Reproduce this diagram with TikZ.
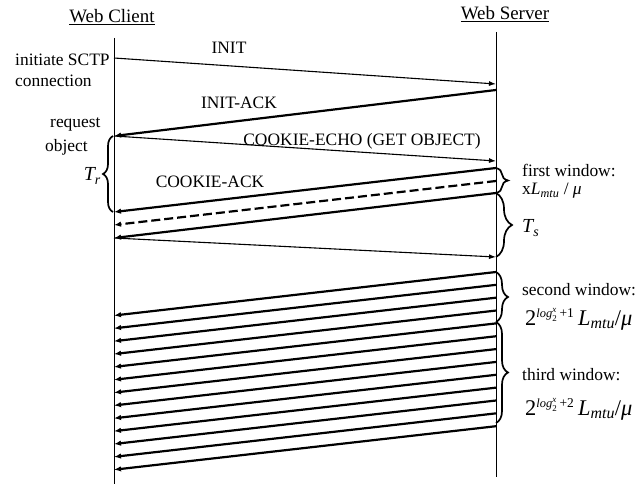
\documentclass[tikz,border=0pt]{standalone}
\usepackage{fontspec}
\setmainfont{Liberation Serif}
\usetikzlibrary{arrows.meta,decorations.pathreplacing}
\begin{document}
\begin{tikzpicture}[x=1bp,y=-1bp,
  lbl/.style={font=\fontsize{17.5}{19}\selectfont, inner sep=0pt},
  ttl/.style={font=\fontsize{19}{21}\selectfont, inner sep=0pt},
  frm/.style={font=\fontsize{22.5}{24}\selectfont, inner sep=0pt, anchor=base west},
  req/.style={line width=1.1bp,-{Latex[length=7bp,width=5bp]}},
  dat/.style={line width=2.2bp,-{Latex[length=7bp,width=5.5bp]}},
  life/.style={line width=1bp},
  brc/.style={decorate,decoration={brace,amplitude=#1},line width=1.7bp},
  brc/.default=12bp]
\useasboundingbox (0,0) rectangle (639,484);
% titles
\node[ttl] (tc) at (112,17) {\underline{Web Client}};
\node[ttl] (ts) at (505,14) {\underline{Web Server}};
% lifelines
\coordinate (ctop) at (114,38); \coordinate (cbot) at (114,484);
\coordinate (stop) at (496,32); \coordinate (sbot) at (496,477);
\draw[life] (ctop) -- (cbot);
\draw[life] (stop) -- (sbot);
% endpoints
\coordinate (c1) at (114,58);  \coordinate (s1) at (496,84);
\coordinate (s2) at (496,90);  \coordinate (c2) at (114,136);
\coordinate (s3) at (496,161);
\coordinate (s4) at (496,168); \coordinate (c4) at (114,212);
\coordinate (s5) at (496,181); \coordinate (c5) at (114,225);
\coordinate (s6) at (496,193); \coordinate (c6) at (114,238);
\coordinate (s7) at (496,257);
% handshake
\draw[req] (c1) -- (s1);
\draw[dat] (s2) -- (c2);
\draw[req] (c2) -- (s3);
\draw[dat] (s4) -- (c4);
\draw[dat,dashed,dash pattern=on 9bp off 4bp] (s5) -- (c5);
\draw[dat] (s6) -- (c6);
\draw[req] (c6) -- (s7);
% data windows
\foreach \k in {0,...,12}{
  \coordinate (ws\k) at (496,{272+12.85*\k});
  \coordinate (wc\k) at (114,{315.5+12.85*\k});
  \draw[dat] (ws\k) -- (wc\k);
}
% labels
\node[lbl] (linit) at (229,48) {INIT};
\node[lbl] (linitack) at (239,103) {INIT-ACK};
\node[lbl] (lecho) at (362,141) {COOKIE-ECHO (GET OBJECT)};
\node[lbl] (lack) at (210,182) {COOKIE-ACK};
\node[lbl,anchor=west] (linit1) at (15,60) {initiate SCTP};
\node[lbl,anchor=west] (linit2) at (15,81) {connection};
\node[lbl,anchor=west] (lreq1) at (50,124) {request};
\node[lbl,anchor=west] (lreq2) at (45,147) {object};
% braces
\coordinate (tra) at (113,212); \coordinate (trb) at (113,136);
\draw[brc=10bp] (tra) -- (trb);
\node[font=\fontsize{20}{22}\selectfont\itshape,inner sep=0pt,anchor=east] (ltr) at (101,176) {T\textsubscript{r}};
\coordinate (b1a) at (496,168); \coordinate (b1b) at (496,193);
\draw[brc] (b1a) -- (b1b);
\coordinate (b2a) at (496,193); \coordinate (b2b) at (496,257);
\draw[brc=16bp] (b2a) -- (b2b);
\coordinate (b3a) at (496,272); \coordinate (b3b) at (496,322);
\draw[brc] (b3a) -- (b3b);
\coordinate (b4a) at (496,322); \coordinate (b4b) at (496,423);
\draw[brc] (b4a) -- (b4b);
\node[lbl,anchor=west] (lw1) at (522,170) {first window:};
\node[lbl,anchor=west] (lw1f) at (522,191) {x\textit{L}\textsubscript{\textit{mtu}} / \textit{μ}};
\node[font=\fontsize{20}{22}\selectfont\itshape,inner sep=0pt,anchor=west] (lts) at (522,228) {T\textsubscript{s}};
\node[lbl,anchor=west] (lw2) at (522,290) {second window:};
\node[frm] (lw2f) at (525,325) {2$^{\hbox{\fontsize{12.5}{12}\selectfont\itshape log}_{\hbox{\fontsize{9}{9}\selectfont 2}}^{\hbox{\fontsize{9}{9}\selectfont\itshape x}}\hbox{\fontsize{13.5}{12}\selectfont\,+1}}$\,\textit{L}\textsubscript{\fontsize{16}{16}\selectfont\itshape mtu}/\textit{μ}};
\node[lbl,anchor=west] (lw3) at (522,375) {third window:};
\node[frm] (lw3f) at (525,415) {2$^{\hbox{\fontsize{12.5}{12}\selectfont\itshape log}_{\hbox{\fontsize{9}{9}\selectfont 2}}^{\hbox{\fontsize{9}{9}\selectfont\itshape x}}\hbox{\fontsize{13.5}{12}\selectfont\,+2}}$\,\textit{L}\textsubscript{\fontsize{16}{16}\selectfont\itshape mtu}/\textit{μ}};
\end{tikzpicture}
\end{document}
